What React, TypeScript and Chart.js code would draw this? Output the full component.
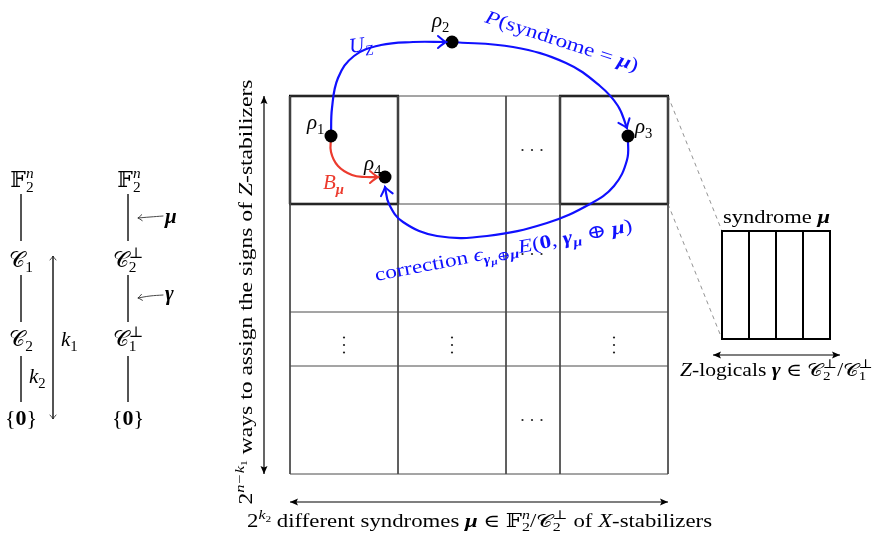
import React, { useEffect, useRef } from "react";
import { Chart, registerables } from "chart.js";

Chart.register(...registerables);

const W = 875;
const H = 533;
const SERIF = '"Liberation Serif", "DejaVu Serif", "DejaVu Sans", "Noto Sans", serif';

// ---- diagram data (diagram coordinates: x right, y down) ----
const gridX = [290, 398, 506, 560, 668];
const gridY = [96, 204, 312, 366, 474];
const thickBoxes = [
  [290, 96, 398, 204],
  [560, 96, 668, 204],
];
const synBoxX = [722, 749, 776, 803, 830];
const synBoxY = [231, 339];
const dashedLines = [
  [668, 96, 722, 231],
  [668, 204, 722, 339],
];
const doubleArrows = [
  [264, 96, 264, 474],
  [290, 502, 668, 502],
  [713, 355, 840, 355],
];
const latticeCols = [21, 128];
const latticeSegs = [
  [194, 241],
  [275, 322],
  [356, 402],
];
const k1Arrow = [53, 256, 53, 419];
const muArrow = [
  [163, 216],
  [150, 217],
  [138, 218],
];
const gammaArrow = [
  [163, 295],
  [150, 296],
  [138, 298],
];

const rhoPoints = [
  [331, 136],
  [452, 42],
  [628, 136],
  [385, 177],
];

const curveUz = [
  [331, 136],
  [332, 108],
  [338, 78],
  [354, 56],
  [381, 45],
  [413, 42],
  [446, 42],
];
const curveP = [
  [452, 42],
  [513, 47],
  [566, 63],
  [600, 86],
  [618, 106],
  [627, 128],
];
const curveCorr = [
  [628, 137],
  [627, 160],
  [614, 186],
  [590, 204],
  [547, 223],
  [487, 236],
  [437, 236],
  [403, 222],
  [389, 204],
  [385, 187],
];
const curveB = [
  [331, 137],
  [331, 152],
  [338, 166],
  [352, 175],
  [366, 177],
  [378, 177],
];

const hDotsCenters = [
  [532, 150],
  [532, 254],
  [532, 420],
];
const vDotsCenters = [
  [344, 345],
  [452, 345],
  [614, 345],
];

const BLUE = "#1010ff";
const RED = "#ec3b2e";

type Seg = { t: string; st?: string; sc?: number; dy?: number; ov?: boolean };

const sub = (t: string, st = "n", sc = 0.7): Seg => ({ t, st, sc, dy: 0.22 });
const sup = (t: string, st = "n", sc = 0.7, ov = false): Seg => ({ t, st, sc, dy: -0.42, ov });

function fontFor(seg: Seg, size: number) {
  const s = size * (seg.sc ?? 1);
  const st = seg.st ?? "n";
  const style = st === "i" || st === "bi" ? "italic " : "";
  const weight = st === "b" || st === "bi" ? "bold " : "";
  return `${style}${weight}${s.toFixed(2)}px ${SERIF}`;
}

function layout(ctx: CanvasRenderingContext2D, segs: Seg[], size: number) {
  const pos: number[] = [];
  let cx = 0;
  let prevStart = 0;
  let prevW = 0;
  for (const seg of segs) {
    ctx.font = fontFor(seg, size);
    const w = ctx.measureText(seg.t).width;
    if (seg.ov) {
      pos.push(prevStart);
      prevW = Math.max(prevW, w);
      cx = prevStart + prevW;
    } else {
      pos.push(cx);
      prevStart = cx;
      prevW = w;
      cx += w;
    }
  }
  return { pos, total: cx };
}

function drawRich(
  ctx: CanvasRenderingContext2D,
  segs: Seg[],
  x: number,
  y: number,
  size: number,
  align: string,
  color: string,
  rot = 0,
  fit = 0
) {
  ctx.save();
  ctx.translate(x, y);
  ctx.rotate((rot * Math.PI) / 180);
  const L = layout(ctx, segs, size);
  if (fit > 0) ctx.scale(fit / L.total, 1);
  const off = align === "center" ? -L.total / 2 : align === "right" ? -L.total : 0;
  ctx.fillStyle = color;
  ctx.textBaseline = "alphabetic";
  ctx.textAlign = "left";
  segs.forEach((seg, i) => {
    ctx.font = fontFor(seg, size);
    ctx.fillText(seg.t, off + L.pos[i], (seg.dy ?? 0) * size);
  });
  ctx.restore();
}

type Label = { segs: Seg[]; x: number; y: number; size: number; align: string; color: string; rot?: number; fit?: number };

const muB: Seg = { t: "μ", st: "bi" };
const labels: Label[] = [
  {
    segs: [
      { t: "2" },
      sup("k", "i"),
      { t: "2", sc: 0.5, dy: -0.3 },
      { t: " different syndromes " },
      muB,
      { t: " ∈ " },
      { t: "𝔽" },
      sub("2"),
      sup("n", "i", 0.7, true),
      { t: "/" },
      { t: "𝒞" },
      sub("2"),
      sup("⊥", "n", 0.7, true),
      { t: " of " },
      { t: "X", st: "i" },
      { t: "-stabilizers" },
    ],
    x: 247,
    y: 527,
    size: 18,
    align: "left",
    color: "#000",
    fit: 465,
  },
  {
    segs: [
      { t: "2" },
      sup("n−k", "i"),
      { t: "1", sc: 0.5, dy: -0.3 },
      { t: " ways to assign the signs of " },
      { t: "Z", st: "i" },
      { t: "-stabilizers" },
    ],
    x: 252,
    y: 292,
    size: 18,
    align: "center",
    color: "#000",
    rot: -90,
    fit: 425,
  },
  {
    segs: [{ t: "syndrome " }, muB],
    x: 723,
    y: 223,
    size: 18,
    align: "left",
    color: "#000",
    fit: 107,
  },
  {
    segs: [
      { t: "Z", st: "i" },
      { t: "-logicals " },
      { t: "γ", st: "bi" },
      { t: " ∈ " },
      { t: "𝒞" },
      sub("2"),
      sup("⊥", "n", 0.7, true),
      { t: "/" },
      { t: "𝒞" },
      sub("1"),
      sup("⊥", "n", 0.7, true),
    ],
    x: 680,
    y: 376,
    size: 18,
    align: "left",
    color: "#000",
    fit: 193,
  },
  { segs: [{ t: "ρ", st: "i" }, sub("1")], x: 307, y: 129, size: 21, align: "left", color: "#000" },
  { segs: [{ t: "ρ", st: "i" }, sub("2")], x: 432, y: 27, size: 21, align: "left", color: "#000" },
  { segs: [{ t: "ρ", st: "i" }, sub("3")], x: 635, y: 133, size: 21, align: "left", color: "#000" },
  { segs: [{ t: "ρ", st: "i" }, sub("4")], x: 364, y: 170, size: 21, align: "left", color: "#000" },
  { segs: [{ t: "B", st: "i" }, sub("μ", "bi")], x: 323, y: 189, size: 21, align: "left", color: RED },
  { segs: [{ t: "U", st: "i" }, sub("Z", "i")], x: 350, y: 53, size: 21, align: "left", color: BLUE, rot: -8 },
  {
    segs: [{ t: "P", st: "i" }, { t: "(syndrome = " }, muB, { t: ")" }],
    x: 484,
    y: 22,
    size: 19,
    align: "left",
    color: BLUE,
    rot: 18,
    fit: 160,
  },
  {
    segs: [
      { t: "correction " },
      { t: "ϵ", st: "i" },
      { t: "γ", st: "bi", sc: 0.7, dy: 0.22 },
      { t: "μ", st: "bi", sc: 0.5, dy: 0.35 },
      { t: "⊕", sc: 0.7, dy: 0.22 },
      { t: "μ", st: "bi", sc: 0.7, dy: 0.22 },
      { t: "E", st: "i" },
      { t: "(" },
      { t: "0", st: "b" },
      { t: ", " },
      { t: "γ", st: "bi" },
      sub("μ", "bi"),
      { t: " ⊕ " },
      muB,
      { t: ")" },
    ],
    x: 376,
    y: 281,
    size: 19,
    align: "left",
    color: BLUE,
    rot: -11,
    fit: 262,
  },
  // lattice
  { segs: [{ t: "𝔽" }, sub("2"), sup("n", "i", 0.7, true)], x: 22, y: 187, size: 22, align: "center", color: "#000" },
  { segs: [{ t: "𝒞" }, sub("1")], x: 21, y: 267, size: 22, align: "center", color: "#000" },
  { segs: [{ t: "𝒞" }, sub("2")], x: 21, y: 346, size: 22, align: "center", color: "#000" },
  { segs: [{ t: "{" }, { t: "0", st: "b" }, { t: "}" }], x: 21, y: 425, size: 22, align: "center", color: "#000" },
  { segs: [{ t: "𝔽" }, sub("2"), sup("n", "i", 0.7, true)], x: 129, y: 187, size: 22, align: "center", color: "#000" },
  { segs: [{ t: "𝒞" }, sub("2"), sup("⊥", "n", 0.7, true)], x: 128, y: 267, size: 22, align: "center", color: "#000" },
  { segs: [{ t: "𝒞" }, sub("1"), sup("⊥", "n", 0.7, true)], x: 128, y: 346, size: 22, align: "center", color: "#000" },
  { segs: [{ t: "{" }, { t: "0", st: "b" }, { t: "}" }], x: 128, y: 425, size: 22, align: "center", color: "#000" },
  { segs: [{ t: "k", st: "i" }, sub("1")], x: 61, y: 346, size: 21, align: "left", color: "#000" },
  { segs: [{ t: "k", st: "i" }, sub("2")], x: 29, y: 383, size: 21, align: "left", color: "#000" },
  { segs: [muB], x: 165, y: 223, size: 21, align: "left", color: "#000" },
  { segs: [{ t: "γ", st: "bi" }], x: 165, y: 300, size: 21, align: "left", color: "#000" },
];

type Pt = number[];

function seg(a: Pt, b: Pt, color: string, width: number, dash: number[] = []) {
  return {
    type: "line" as const,
    data: [
      { x: a[0], y: a[1] },
      { x: b[0], y: b[1] },
    ],
    borderColor: color,
    borderWidth: width,
    borderDash: dash,
    pointRadius: 0,
    tension: 0,
    order: 5,
    borderCapStyle: "butt" as const,
  };
}

function curve(pts: Pt[], color: string, width: number) {
  return {
    type: "line" as const,
    data: pts.map((p) => ({ x: p[0], y: p[1] })),
    borderColor: color,
    borderWidth: width,
    pointRadius: 0,
    tension: 0.4,
    cubicInterpolationMode: "default" as const,
    order: 3,
    borderCapStyle: "round" as const,
  };
}

function openArrow(ctx: CanvasRenderingContext2D, tip: Pt, from: Pt, color: string, lw: number, len: number, half: number) {
  const ang = Math.atan2(tip[1] - from[1], tip[0] - from[0]);
  ctx.save();
  ctx.translate(tip[0], tip[1]);
  ctx.rotate(ang);
  ctx.strokeStyle = color;
  ctx.lineWidth = lw;
  ctx.lineCap = "round";
  ctx.beginPath();
  ctx.moveTo(-len, -half);
  ctx.quadraticCurveTo(-len * 0.25, -half * 0.15, 0, 0);
  ctx.quadraticCurveTo(-len * 0.25, half * 0.15, -len, half);
  ctx.stroke();
  ctx.restore();
}

function filledArrow(ctx: CanvasRenderingContext2D, tip: Pt, from: Pt, color: string, len: number, half: number) {
  const ang = Math.atan2(tip[1] - from[1], tip[0] - from[0]);
  ctx.save();
  ctx.translate(tip[0], tip[1]);
  ctx.rotate(ang);
  ctx.fillStyle = color;
  ctx.beginPath();
  ctx.moveTo(0, 0);
  ctx.lineTo(-len, -half);
  ctx.lineTo(-len * 0.8, 0);
  ctx.lineTo(-len, half);
  ctx.closePath();
  ctx.fill();
  ctx.restore();
}

const overlay = {
  id: "overlay",
  afterDatasetsDraw(chart: any) {
    const ctx: CanvasRenderingContext2D = chart.ctx;
    const xs = chart.scales.x;
    const ys = chart.scales.y;
    const P = (p: Pt): Pt => [xs.getPixelForValue(p[0]), ys.getPixelForValue(p[1])];

    const curveArrows: [Pt[], string][] = [
      [curveUz, BLUE],
      [curveP, BLUE],
      [curveCorr, BLUE],
      [curveB, RED],
    ];
    for (const [pts, col] of curveArrows) {
      const n = pts.length;
      openArrow(ctx, P(pts[n - 1]), P(pts[n - 2]), col, 2, 8, 6);
    }
    for (const a of doubleArrows) {
      const p1 = P([a[0], a[1]]);
      const p2 = P([a[2], a[3]]);
      filledArrow(ctx, p1, p2, "#000", 8, 3.5);
      filledArrow(ctx, p2, p1, "#000", 8, 3.5);
    }
    {
      const p1 = P([k1Arrow[0], k1Arrow[1]]);
      const p2 = P([k1Arrow[2], k1Arrow[3]]);
      openArrow(ctx, p1, p2, "#222", 0.8, 4, 3);
      openArrow(ctx, p2, p1, "#222", 0.8, 4, 3);
    }
    for (const arr of [muArrow, gammaArrow]) {
      openArrow(ctx, P(arr[arr.length - 1]), P(arr[arr.length - 2]), "#222", 0.8, 4, 3);
    }
    for (const L of labels) {
      const p = P([L.x, L.y]);
      drawRich(ctx, L.segs, p[0], p[1], L.size, L.align, L.color, L.rot ?? 0, L.fit ?? 0);
    }
  },
};

export default function App() {
  const ref = useRef<HTMLCanvasElement | null>(null);
  useEffect(() => {
    document.body.style.margin = "0";
    const canvas = ref.current;
    if (!canvas) return;
    const datasets: any[] = [];
    for (const x of gridX) datasets.push(seg([x, gridY[0]], [x, gridY[gridY.length - 1]], "#4a4a4a", 1));
    for (const y of gridY) datasets.push(seg([gridX[0], y], [gridX[gridX.length - 1], y], "#4a4a4a", 1));
    for (const b of thickBoxes) {
      datasets.push(seg([b[0] - 1, b[1]], [b[2] + 1, b[1]], "#000", 2.4));
      datasets.push(seg([b[2], b[1]], [b[2], b[3]], "#000", 2.4));
      datasets.push(seg([b[2] + 1, b[3]], [b[0] - 1, b[3]], "#000", 2.4));
      datasets.push(seg([b[0], b[3]], [b[0], b[1]], "#000", 2.4));
    }
    for (const x of synBoxX) datasets.push(seg([x, synBoxY[0]], [x, synBoxY[1]], "#000", 2));
    for (const y of synBoxY) datasets.push(seg([synBoxX[0] - 1, y], [synBoxX[synBoxX.length - 1] + 1, y], "#000", 2));
    for (const d of dashedLines) datasets.push(seg([d[0], d[1]], [d[2], d[3]], "#777", 0.8, [4, 4]));
    for (const a of doubleArrows) datasets.push(seg([a[0], a[1]], [a[2], a[3]], "#000", 1.2));
    for (const cx of latticeCols) for (const s of latticeSegs) datasets.push(seg([cx, s[0]], [cx, s[1]], "#333", 0.9));
    datasets.push(seg([k1Arrow[0], k1Arrow[1]], [k1Arrow[2], k1Arrow[3]], "#333", 0.9));
    datasets.push({ ...curve(muArrow, "#333", 0.9), order: 5 });
    datasets.push({ ...curve(gammaArrow, "#333", 0.9), order: 5 });
    datasets.push(curve(curveUz, BLUE, 2.2));
    datasets.push(curve(curveP, BLUE, 2.2));
    datasets.push(curve(curveCorr, BLUE, 2.2));
    datasets.push(curve(curveB, RED, 2.2));
    const hd: any[] = [];
    for (const c of hDotsCenters) for (const k of [-1, 0, 1]) hd.push({ x: c[0] + k * 9.5, y: c[1] });
    const vd: any[] = [];
    for (const c of vDotsCenters) for (const k of [-1, 0, 1]) vd.push({ x: c[0], y: c[1] + k * 7.5 });
    datasets.push({ type: "scatter", data: [...hd, ...vd], pointRadius: 1.1, pointBackgroundColor: "#222", pointBorderWidth: 0, order: 2 });
    datasets.push({
      type: "scatter",
      data: rhoPoints.map((p) => ({ x: p[0], y: p[1] })),
      pointRadius: 6.5,
      pointBackgroundColor: "#000",
      pointBorderWidth: 0,
      order: 0,
    });

    const chart = new Chart(canvas, {
      type: "line",
      data: { datasets },
      options: {
        animation: false,
        responsive: false,
        devicePixelRatio: 1,
        layout: { padding: 0, autoPadding: false },
        plugins: { legend: { display: false }, tooltip: { enabled: false } },
        events: [],
        scales: {
          x: { type: "linear", min: 0, max: W, display: false },
          y: { type: "linear", min: 0, max: H, reverse: true, display: false },
        },
        elements: { line: { fill: false } },
      },
      plugins: [overlay],
    } as any);
    return () => chart.destroy();
  }, []);
  return <canvas ref={ref} width={W} height={H} style={{ display: "block", width: W, height: H }} />;
}
